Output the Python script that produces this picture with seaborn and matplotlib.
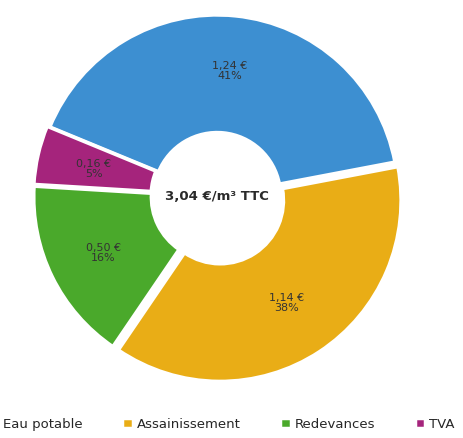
import matplotlib
matplotlib.use("Agg")
import matplotlib.pyplot as plt
import seaborn as sns
import numpy as np

# parts of the water price, per m3
categories = ["Eau potable", "Assainissement", "Redevances", "TVA"]
values = [1.24, 1.14, 0.50, 0.16]
value_labels = ["1,24 €", "1,14 €", "0,50 €", "0,16 €"]
pct_labels = ["41%", "38%", "16%", "5%"]
total_label = "3,04 €/m³ TTC"

colors = ["#3d8fd1", "#e9ad16", "#4aa92b", "#a5247c"]

sns.set_theme(style="white")
plt.rcParams["font.family"] = ["DejaVu Sans"]

fig = plt.figure(figsize=(4.64, 4.39), dpi=100)
# axes placed so the ring centre sits near (218, 195) px
ax = fig.add_axes([0.078, 0.139, 0.78, 0.825])

wedges, texts = ax.pie(
    values,
    colors=colors,
    startangle=157.6,
    counterclock=False,
    radius=1.0,
    explode=[0.0, 0.03, 0.015, 0.015],
    wedgeprops=dict(width=0.65, edgecolor="white", linewidth=2.5),
)

# labels inside each ring slice
for w, v, p in zip(wedges, value_labels, pct_labels):
    ang = np.deg2rad((w.theta1 + w.theta2) / 2)
    r = 0.70
    ax.text(r * np.cos(ang), r * np.sin(ang), v + "\n" + p,
            ha="center", va="center", fontsize=8, color="#333333",
            linespacing=1.0)

ax.text(0, 0, total_label, ha="center", va="center", fontsize=9.5,
        fontweight="bold", color="#2a2a2a")

ax.set_xlim(-1.0, 1.0)
ax.set_ylim(-1.0, 1.0)
ax.set_aspect("equal")
ax.axis("off")

fig.legend(wedges, categories, loc="center", bbox_to_anchor=(0.478, 0.032),
           ncol=4, frameon=False, fontsize=9.5, handlelength=0.8,
           handleheight=0.8, handletextpad=0.3, columnspacing=3.0)

fig.savefig("out.png", dpi=100)
